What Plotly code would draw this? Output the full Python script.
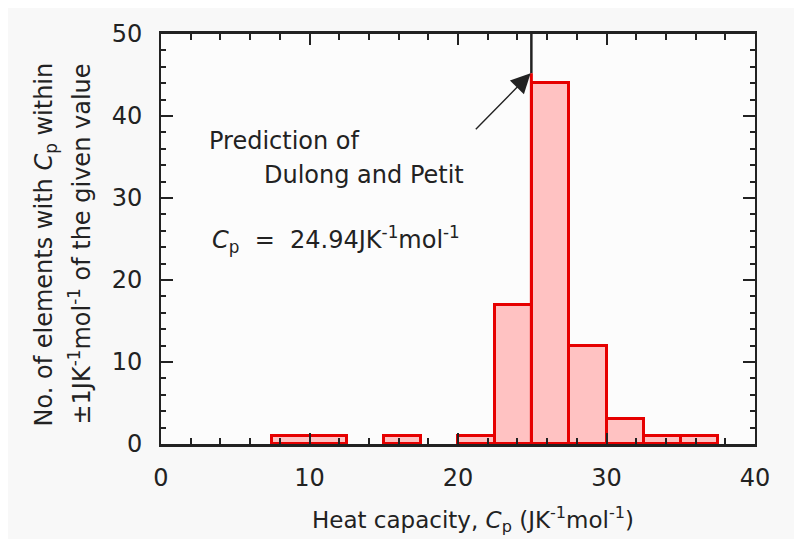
import plotly.graph_objects as go

# ---- data ----
bin_lo = [7.5, 15.0, 20.0, 22.5, 25.0, 27.5, 30.0, 32.5, 35.0]
bin_hi = [12.5, 17.5, 22.5, 25.0, 27.5, 30.0, 32.5, 35.0, 37.5]
counts = [1, 1, 1, 17, 44, 12, 3, 1, 1]

x_ticks = [0, 10, 20, 30, 40]
y_ticks = [0, 10, 20, 30, 40, 50]

dp_value = 24.94          # Dulong-Petit prediction (J/K/mol)
arrow_tip_y = 45.2        # where the arrow meets the prediction line
arrow_tail = (21.1, 38.2)

centers = [(a + b) / 2 for a, b in zip(bin_lo, bin_hi)]
widths = [b - a for a, b in zip(bin_lo, bin_hi)]

FONT = "DejaVu Sans, Liberation Sans, Arial, sans-serif"
TXT = "#222222"

fig = go.Figure()
fig.add_trace(go.Bar(
    x=centers, y=counts, width=widths,
    marker=dict(color="#FFC2C2", line=dict(color="#E60000", width=3)),
    hoverinfo="x+y",
))

# prediction line (black above the peak, red where it runs along the bar)
fig.add_shape(type="line", xref="x", yref="y", x0=dp_value, x1=dp_value,
              y0=arrow_tip_y, y1=50, line=dict(color="#222222", width=2.5))
fig.add_shape(type="line", xref="x", yref="y", x0=dp_value, x1=dp_value,
              y0=0, y1=arrow_tip_y, line=dict(color="#E60000", width=3))

# arrow
fig.add_annotation(x=dp_value - 0.05, y=arrow_tip_y, ax=arrow_tail[0], ay=arrow_tail[1],
                   xref="x", yref="y", axref="x", ayref="y", text="",
                   showarrow=True, arrowhead=2, arrowsize=2.8, arrowwidth=1.4,
                   arrowcolor="#222222")

# annotation text
fig.add_annotation(x=3.1, y=37.0, xref="x", yref="y", xanchor="left", yanchor="middle",
                   text="Prediction of", showarrow=False,
                   font=dict(family=FONT, size=24, color=TXT))
fig.add_annotation(x=6.8, y=32.8, xref="x", yref="y", xanchor="left", yanchor="middle",
                   text="Dulong and Petit", showarrow=False,
                   font=dict(family=FONT, size=24, color=TXT))
fig.add_annotation(x=3.3, y=25.0, xref="x", yref="y", xanchor="left", yanchor="middle",
                   text="<i>C</i><sub>p</sub>  =  24.94JK<sup>-1</sup>mol<sup>-1</sup>",
                   showarrow=False, font=dict(family=FONT, size=24, color=TXT))

# axis titles
fig.add_annotation(x=-0.195, y=0.487, xref="paper", yref="paper",
                   xanchor="center", yanchor="middle", textangle=-90,
                   text="No. of elements with <i>C</i><sub>p</sub> within",
                   showarrow=False, font=dict(family=FONT, size=24, color=TXT))
fig.add_annotation(x=-0.136, y=0.487, xref="paper", yref="paper",
                   xanchor="center", yanchor="middle", textangle=-90,
                   text="±1JK<sup>-1</sup>mol<sup>-1</sup> of the given value",
                   showarrow=False, font=dict(family=FONT, size=24, color=TXT))
fig.add_annotation(x=0.525, y=-0.184, xref="paper", yref="paper",
                   xanchor="center", yanchor="middle",
                   text="Heat capacity, <i>C</i><sub>p</sub> (JK<sup>-1</sup>mol<sup>-1</sup>)",
                   showarrow=False, font=dict(family=FONT, size=23, color=TXT))

fig.update_xaxes(range=[0, 40], tickvals=x_ticks, ticktext=[str(v) for v in x_ticks],
                 ticks="inside", ticklen=11, tickwidth=2, tickcolor="#222",
                 minor=dict(dtick=2, tick0=0, ticks="inside", ticklen=6, tickwidth=2, tickcolor="#222"),
                 showline=True, linecolor="#222", linewidth=3, mirror="ticks",
                 showgrid=False, zeroline=False, ticklabelstandoff=10,
                 tickfont=dict(family=FONT, size=24, color=TXT))
fig.update_yaxes(range=[0, 50], tickvals=y_ticks, ticktext=[str(v) for v in y_ticks],
                 ticks="inside", ticklen=12, tickwidth=2, tickcolor="#222",
                 minor=dict(dtick=2, tick0=0, ticks="inside", ticklen=5, tickwidth=2, tickcolor="#222"),
                 showline=True, linecolor="#222", linewidth=2, mirror="ticks",
                 showgrid=False, zeroline=False, ticklabelstandoff=12,
                 tickfont=dict(family=FONT, size=24, color=TXT))

# the page body adds an 8 px offset, so margins are shifted to land the plot
# area where the reference has it
fig.update_layout(
    width=802, height=539,
    margin=dict(l=153, r=55, t=23, b=103),
    paper_bgcolor="#F8F8F8", plot_bgcolor="#FCFCFC",
    showlegend=False, bargap=0,
    font=dict(family=FONT, color=TXT),
)

fig.write_html("out.html")
